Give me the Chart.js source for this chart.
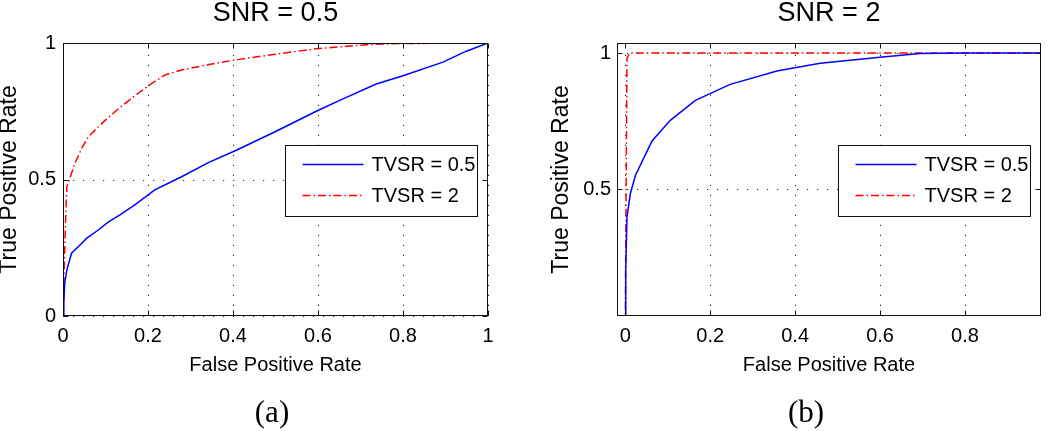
<!DOCTYPE html>
<html><head><meta charset="utf-8">
<script src="https://cdn.jsdelivr.net/npm/chart.js@4.4.1/dist/chart.umd.min.js"></script>
<style>
html,body{margin:0;padding:0;background:#fff;width:1050px;height:431px;overflow:hidden}
#wrapA{position:absolute;left:0;top:0;width:525px;height:431px}
#wrapB{position:absolute;left:525px;top:0;width:525px;height:431px}
</style></head><body>
<div id="wrapA"><canvas id="cA" width="525" height="431"></canvas></div>
<div id="wrapB"><canvas id="cB" width="525" height="431"></canvas></div>
<script>
// ---- text ----
const seriesNames = ['TVSR = 0.5', 'TVSR = 2'];
const panelTitles = ['SNR = 0.5', 'SNR = 2'];
const panelCaptions = ['(a)', '(b)'];
const xAxisTitle = 'False Positive Rate';
const yAxisTitle = 'True Positive Rate';

// ---- panel (a): SNR = 0.5 ----
const aBlueFPR = [0, 0.002, 0.004, 0.009, 0.020, 0.040, 0.056, 0.083, 0.107, 0.134, 0.169, 0.216, 0.279, 0.342, 0.409, 0.499, 0.596, 0.651, 0.737, 0.800, 0.894, 0.949, 1];
const aBlueTPR = [0, 0.05, 0.12, 0.168, 0.23, 0.26, 0.285, 0.315, 0.345, 0.37, 0.407, 0.462, 0.51, 0.562, 0.608, 0.675, 0.75, 0.79, 0.85, 0.88, 0.93, 0.97, 1];
const aRedFPR = [0, 0.005, 0.009, 0.016, 0.028, 0.044, 0.060, 0.083, 0.107, 0.138, 0.177, 0.209, 0.240, 0.279, 0.326, 0.405, 0.495, 0.597, 0.715, 0.793, 1];
const aRedTPR = [0, 0.30, 0.474, 0.504, 0.559, 0.614, 0.657, 0.693, 0.728, 0.769, 0.816, 0.852, 0.883, 0.901, 0.916, 0.938, 0.958, 0.979, 0.994, 0.998, 1];
const aXTicks = [0, 0.2, 0.4, 0.6, 0.8, 1];
const aXTickLabels = ['0', '0.2', '0.4', '0.6', '0.8', '1'];
const aYTicks = [0, 0.5, 1];
const aYTickLabels = ['0', '0.5', '1'];

// ---- panel (b): SNR = 2 ----
const bBlueFPR = [0, 0.001, 0.004, 0.012, 0.024, 0.063, 0.106, 0.165, 0.247, 0.357, 0.459, 0.6, 0.694, 0.8, 0.98];
const bBlueTPR = [0, 0.2, 0.398, 0.484, 0.551, 0.677, 0.753, 0.826, 0.885, 0.934, 0.963, 0.985, 0.998, 1.0, 1.0];
const bRedFPR = [0, 0.004, 0.010, 1];
const bRedTPR = [0, 0.98, 1, 1];
const bXTicks = [0, 0.2, 0.4, 0.6, 0.8];
const bXTickLabels = ['0', '0.2', '0.4', '0.6', '0.8'];
const bYTicks = [0.5, 1];
const bYTickLabels = ['0.5', '1'];

// ---- styling ----
const SANS = '"Liberation Sans", Arial, Helvetica, sans-serif';
const SERIF = '"Liberation Serif", "Times New Roman", serif';
const BLUE = '#0000ff';
const RED = '#ff0000';
const RED_DASH = [8, 3, 1.5, 3];

function pts(xs, ys) { return xs.map((v, i) => ({x: v, y: ys[i]})); }

const matlabPlugin = {
  id: 'matlab',
  beforeDatasetsDraw(chart, args, o) {
    const {ctx, chartArea: a, scales: {x, y}} = chart;
    ctx.save();
    ctx.strokeStyle = '#222';
    ctx.lineWidth = 1;
    ctx.setLineDash([1.2, 8.8]);
    for (const t of x.ticks) {
      const px = Math.round(x.getPixelForValue(t.value)) + 0.5;
      ctx.beginPath(); ctx.moveTo(px, a.bottom); ctx.lineTo(px, a.top); ctx.stroke();
    }
    for (const t of y.ticks) {
      const py = Math.round(y.getPixelForValue(t.value)) + 0.5;
      ctx.beginPath(); ctx.moveTo(a.left, py); ctx.lineTo(a.right, py); ctx.stroke();
    }
    ctx.restore();
  },
  afterDatasetsDraw(chart, args, o) {
    const {ctx, chartArea: a, scales: {x, y}} = chart;
    ctx.save();
    ctx.setLineDash([]);
    ctx.strokeStyle = '#111';
    ctx.lineWidth = 1;
    const L = Math.round(a.left) + 0.5, R = Math.round(a.right) - 0.5;
    const T = Math.round(a.top) + 0.5, B = Math.round(a.bottom) - 0.5;
    ctx.strokeRect(L, T, R - L, B - T);
    const tl = 5;
    for (const t of x.ticks) {
      const px = Math.round(x.getPixelForValue(t.value)) + 0.5;
      ctx.beginPath();
      ctx.moveTo(px, B); ctx.lineTo(px, B - tl);
      ctx.moveTo(px, T); ctx.lineTo(px, T + tl);
      ctx.stroke();
    }
    for (const t of y.ticks) {
      const py = Math.round(y.getPixelForValue(t.value)) + 0.5;
      ctx.beginPath();
      ctx.moveTo(L, py); ctx.lineTo(L + tl, py);
      ctx.moveTo(R, py); ctx.lineTo(R - tl, py);
      ctx.stroke();
    }
    // legend
    const lw = o.legendW, lh = o.legendH;
    const lx = Math.round(a.right - o.legendRight - lw) + 0.5;
    const ly = Math.round(o.legendTop) + 0.5;
    ctx.fillStyle = '#fff';
    ctx.fillRect(lx, ly, lw, lh);
    ctx.strokeStyle = '#111';
    ctx.strokeRect(lx, ly, lw, lh);
    ctx.font = '20px ' + SANS;
    ctx.textBaseline = 'middle';
    ctx.textAlign = 'left';
    chart.data.datasets.forEach((ds, i) => {
      const ry = ly + o.rowY[i];
      ctx.save();
      ctx.strokeStyle = ds.borderColor;
      ctx.lineWidth = ds.borderWidth;
      ctx.setLineDash(ds.borderDash || []);
      ctx.beginPath(); ctx.moveTo(lx + 17, ry); ctx.lineTo(lx + 78, ry); ctx.stroke();
      ctx.restore();
      ctx.fillStyle = '#000';
      ctx.fillText(ds.label, lx + 86, ry + 1);
    });
    // title
    ctx.fillStyle = '#000';
    ctx.textAlign = 'center';
    ctx.textBaseline = 'middle';
    ctx.font = '27px ' + SANS;
    ctx.fillText(o.title, (a.left + a.right) / 2, 14);
    // caption
    ctx.font = '31px ' + SERIF;
    ctx.fillText(o.caption, o.captionX, 414);
    ctx.restore();
  }
};

function makeChart(id, cfg) {
  return new Chart(document.getElementById(id), {
    type: 'scatter',
    data: {
      datasets: [
        {label: seriesNames[0], data: pts(cfg.blueX, cfg.blueY), borderColor: BLUE, backgroundColor: BLUE,
         borderWidth: 1.5, showLine: true, pointRadius: 0, fill: false, tension: 0},
        {label: seriesNames[1], data: pts(cfg.redX, cfg.redY), borderColor: RED, backgroundColor: RED,
         borderWidth: 1.5, borderDash: RED_DASH, showLine: true, pointRadius: 0, fill: false, tension: 0}
      ]
    },
    options: {
      responsive: false,
      animation: false,
      devicePixelRatio: 1,
      layout: {padding: {top: 43, left: 0, right: cfg.padRight, bottom: 0}},
      plugins: {
        legend: {display: false},
        title: {display: false},
        tooltip: {enabled: false},
        matlab: {title: cfg.title, caption: cfg.caption, captionX: cfg.captionX,
                 legendW: 192, legendH: 71, legendRight: 11, legendTop: 145, rowY: [19, 50]}
      },
      scales: {
        x: {
          type: 'linear', position: 'bottom', min: cfg.xMin, max: cfg.xMax,
          grid: {display: false, drawTicks: false, tickLength: 0},
          border: {display: false},
          afterBuildTicks: s => { s.ticks = cfg.xTicks.map(v => ({value: v})); },
          afterFit: s => { s.height = 115; },
          ticks: {autoSkip: false, maxRotation: 0, padding: 8, color: '#000',
                  font: {family: SANS, size: 20},
                  callback: (v, i) => cfg.xTickLabels[i]},
          title: {display: true, text: xAxisTitle, color: '#000', font: {family: SANS, size: 20},
                  padding: {top: 0, bottom: 54}}
        },
        y: {
          type: 'linear', position: 'left', min: cfg.yMin, max: cfg.yMax,
          grid: {display: false, drawTicks: false, tickLength: 0},
          border: {display: false},
          afterBuildTicks: s => { s.ticks = cfg.yTicks.map(v => ({value: v})); },
          afterFit: s => { s.width = cfg.yWidth; },
          ticks: {autoSkip: false, padding: cfg.yTickPad, color: '#000',
                  font: {family: SANS, size: 20},
                  callback: (v, i) => cfg.yTickLabels[i]},
          title: {display: true, text: yAxisTitle, color: '#000', font: {family: SANS, size: 23},
                  padding: {top: cfg.yTitlePad, bottom: 0}}
        }
      }
    },
    plugins: [matlabPlugin]
  });
}

makeChart('cA', {
  blueX: aBlueFPR, blueY: aBlueTPR, redX: aRedFPR, redY: aRedTPR,
  xMin: 0, xMax: 1, yMin: 0, yMax: 1,
  xTicks: aXTicks, xTickLabels: aXTickLabels, yTicks: aYTicks, yTickLabels: aYTickLabels,
  padRight: 37, yWidth: 63, yTickPad: 7, yTitlePad: -4.5,
  title: panelTitles[0], caption: panelCaptions[0], captionX: 272
});
makeChart('cB', {
  blueX: bBlueFPR, blueY: bBlueTPR, redX: bRedFPR, redY: bRedTPR,
  xMin: -0.0195, xMax: 0.979, yMin: 0.034, yMax: 1.037,
  xTicks: bXTicks, xTickLabels: bXTickLabels, yTicks: bYTicks, yTickLabels: bYTickLabels,
  padRight: 9, yWidth: 92, yTickPad: 6, yTitlePad: 23,
  title: panelTitles[1], caption: panelCaptions[1], captionX: 281
});
</script>
</body></html>
